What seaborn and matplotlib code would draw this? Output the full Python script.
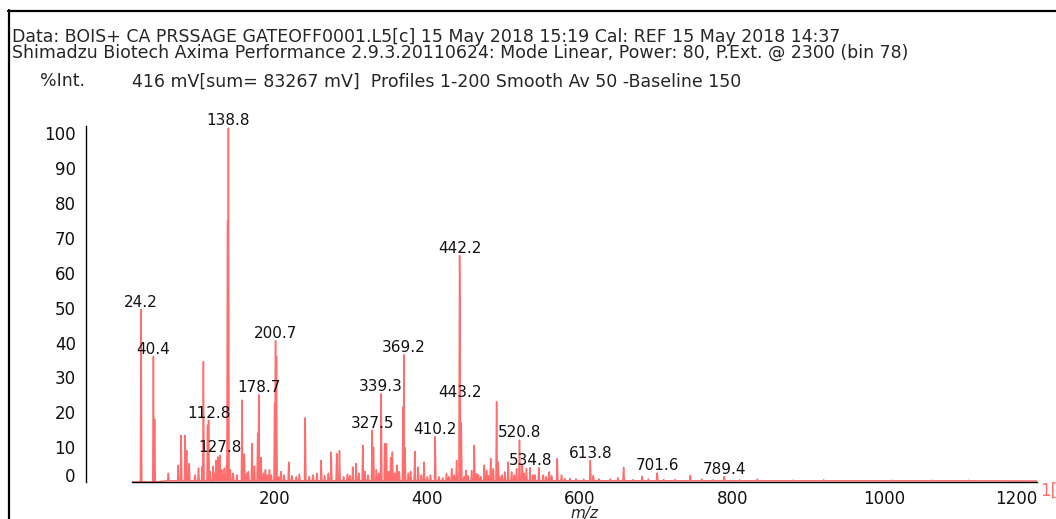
import numpy as np
import pandas as pd
import matplotlib
matplotlib.use("Agg")
import matplotlib.pyplot as plt
import seaborn as sns
from matplotlib.ticker import MultipleLocator
from matplotlib.lines import Line2D

# peak apex positions (m/z) and heights (%Int.)
peak_mz = [24.2, 40.4, 42.0, 60.0, 73.0, 76.8, 82.0, 84.0, 87.4, 99.6,
           104.5, 106.0, 111.5, 112.8, 118.9, 122.5, 125.0, 127.8, 133.5, 136.5,
           137.8, 138.8, 141.3, 156.7, 159.7, 162.8, 169.8, 173.0, 177.3, 178.7,
           181.7, 187.4, 192.7, 199.5, 200.7, 201.9, 208.0, 218.0, 239.6, 260.6,
           273.7, 281.0, 284.6, 302.0, 306.4, 315.2, 327.5, 329.2, 339.3, 344.0,
           346.2, 351.8, 354.0, 360.0, 368.0, 369.2, 370.6, 383.4, 387.7, 395.6,
           410.2, 425.0, 431.8, 438.3, 442.2, 442.8, 443.2, 444.4, 450.5, 458.0,
           461.5, 464.6, 474.6, 477.7, 483.0, 486.4, 490.8, 492.9, 501.7, 506.0,
           510.5, 517.0, 520.8, 524.4, 530.0, 534.8, 538.8, 546.3, 552.0, 559.9,
           570.4, 576.0, 587.0, 613.8, 617.7, 657.5, 681.7, 701.6, 710.0, 745.0,
           789.4, 833.0]
peak_int = [49.5, 36.0, 18.0, 2.5, 4.8, 13.4, 13.4, 9.0, 5.3, 4.0,
            4.5, 34.5, 16.3, 17.7, 4.5, 6.2, 7.2, 7.7, 4.0, 5.0,
            75.0, 101.5, 3.5, 23.5, 8.0, 2.5, 11.0, 4.6, 14.0, 25.0,
            7.0, 3.5, 3.5, 22.5, 40.5, 36.0, 3.0, 5.7, 18.4, 6.2,
            8.6, 8.1, 9.0, 4.3, 5.3, 10.5, 14.8, 10.0, 25.3, 11.0,
            11.0, 7.0, 8.6, 4.8, 21.5, 36.5, 9.8, 8.8, 4.3, 5.7,
            13.0, 2.4, 3.8, 6.2, 65.0, 51.0, 23.5, 17.0, 3.3, 3.3,
            10.5, 2.4, 4.8, 3.3, 6.7, 3.8, 23.0, 5.7, 2.9, 5.7,
            2.9, 3.8, 12.0, 4.8, 3.8, 4.1, 2.0, 4.1, 2.0, 2.9,
            6.7, 2.0, 1.0, 6.2, 1.8, 4.2, 1.6, 2.6, 0.7, 1.9,
            1.6, 0.8]

# small baseline "grass" peaks
noise_mz = [95, 115, 120, 130, 131.5, 145, 150, 165, 185, 190,
            195, 205, 212, 222, 228, 232, 245, 250, 255, 265,
            270, 290, 295, 298, 310, 318, 322, 333, 336, 349,
            357, 363, 375, 378, 392, 400, 404, 415, 420, 428,
            435, 448, 453, 467, 470, 480, 495, 498, 514, 527,
            541, 556, 563, 580, 595, 605, 625, 640, 650, 670,
            690, 725, 760, 775, 810, 880, 920, 1010, 1062, 1110]
noise_int = [2.0, 3.0, 2.5, 3.5, 2.0, 2.5, 2.0, 3.0, 2.5, 2.0,
             2.0, 1.5, 2.0, 1.8, 1.5, 2.2, 1.5, 2.0, 2.5, 1.8,
             2.5, 1.5, 2.2, 1.8, 2.5, 3.0, 2.0, 3.5, 2.5, 3.0,
             2.5, 3.0, 2.5, 3.0, 2.0, 1.5, 2.0, 1.5, 1.2, 1.5,
             2.0, 1.5, 1.8, 2.0, 1.5, 1.8, 1.5, 2.0, 2.0, 2.5,
             2.0, 1.5, 1.8, 1.0, 0.9, 0.8, 0.9, 0.8, 1.2, 0.7,
             0.8, 0.7, 0.8, 0.6, 0.6, 0.5, 0.6, 0.5, 0.5, 0.5]

label_mz = [24.2, 40.4, 112.8, 127.8, 138.8, 178.7, 200.7, 327.5, 339.3,
            369.2, 410.2, 442.2, 443.2, 520.8, 534.8, 613.8, 701.6, 789.4]
label_int = [49.5, 36.0, 17.7, 7.7, 101.5, 25.0, 40.5, 14.8, 25.3,
             36.5, 13.0, 65.0, 23.5, 12.0, 4.1, 6.2, 2.6, 1.6]

header_1 = "Data: BOIS+ CA PRSSAGE GATEOFF0001.L5[c] 15 May 2018 15:19 Cal: REF 15 May 2018 14:37"
header_2 = "Shimadzu Biotech Axima Performance 2.9.3.20110624: Mode Linear, Power: 80, P.Ext. @ 2300 (bin 78)"
header_3 = "416 mV[sum= 83267 mV]  Profiles 1-200 Smooth Av 50 -Baseline 150"

RED = "#FF6E6E"
W, H = 1056, 519


def build_profile(mz, inten, half_width=0.9, base=0.35):
    # turns apex list into a stick-like profile line
    order = np.argsort(mz)
    mz = np.asarray(mz, float)[order]
    inten = np.asarray(inten, float)[order]
    xs, ys = [12.3, 20.0], [0.0, 0.0]
    for i, (m, h) in enumerate(zip(mz, inten)):
        b = 0.0 if m < 45 else base
        left = m - half_width
        if left > xs[-1]:
            xs.append(left)
            ys.append(b)
        xs.append(m)
        ys.append(h)
        nxt = mz[i + 1] - half_width if i + 1 < len(mz) else 1e9
        if m + half_width < nxt:
            xs.append(m + half_width)
            ys.append(b)
    xs += [1200.0]
    ys += [0.3]
    return pd.DataFrame({"mz": xs, "intensity": ys})


spec = build_profile(peak_mz + noise_mz, peak_int + noise_int)

sns.set_style("white")
plt.rcParams["font.family"] = ["DejaVu Sans"]

fig = plt.figure(figsize=(W / 100, H / 100), dpi=100)
ax = fig.add_axes([132 / W, 37 / H, 905 / W, 356 / H])

sns.lineplot(data=spec, x="mz", y="intensity", ax=ax, color=RED,
             linewidth=1.1, sort=False, estimator=None)

for m, h in zip(label_mz, label_int):
    ax.annotate(f"{m:.1f}", xy=(m, h), xytext=(0, 2), textcoords="offset points",
                ha="center", va="baseline", fontsize=11, color="#111111")

ax.set_xlim(12.3, 1200)
ax.set_ylim(0, 102.1)
ax.xaxis.set_minor_locator(MultipleLocator(50))
ax.yaxis.set_minor_locator(MultipleLocator(2))
ax.set_xticks([200, 400, 600, 800, 1000, 1200])
ax.set_yticks(range(0, 101, 10))

for s in ["top", "right"]:
    ax.spines[s].set_visible(False)
for s in ["left", "bottom"]:
    ax.spines[s].set_linewidth(1.0)
    ax.spines[s].set_color("black")
ax.spines["left"].set_position(("outward", 33))

ax.tick_params(axis="both", which="major", direction="out", length=4,
               width=1.0, color="black", labelsize=12, labelcolor="#111111")
ax.tick_params(axis="both", which="minor", direction="out", length=2,
               width=0.8, color="#555555")
ax.tick_params(axis="y", which="major", length=4.5, pad=3)
ax.tick_params(axis="x", which="major", pad=2)

# last x label sits left of its tick, the 0 label sits a bit above its tick
xlabels = ax.get_xticklabels()
xlabels[-1].set_horizontalalignment("right")
ylabels = ax.get_yticklabels()
ylabels[0].set_verticalalignment("baseline")

ax.set_xlabel("m/z", style="italic", fontsize=11, labelpad=-2)
ax.set_ylabel("")

# header texts
hdr = dict(family="DejaVu Sans", fontsize=12.5, va="baseline")
fig.text(12 / W, 1 - 42.5 / H, header_1, **hdr)
fig.text(12 / W, 1 - 57.5 / H, header_2, **hdr)
fig.text(40 / W, 1 - 86.5 / H, "%Int.", **hdr)
fig.text(132 / W, 1 - 86.5 / H, header_3, **hdr)
fig.text(1040 / W, 1 - 491 / H, "1[c]", color=RED, fontsize=12, va="center")

# frame lines around the page
fig.add_artist(Line2D([8 / W, 1.0], [1 - 10.5 / H, 1 - 10.5 / H],
                      transform=fig.transFigure, color="black", linewidth=1.6))
fig.add_artist(Line2D([9 / W, 9 / W], [0, 1 - 10 / H],
                      transform=fig.transFigure, color="black", linewidth=1.6))

fig.savefig("out.png", dpi=100)
